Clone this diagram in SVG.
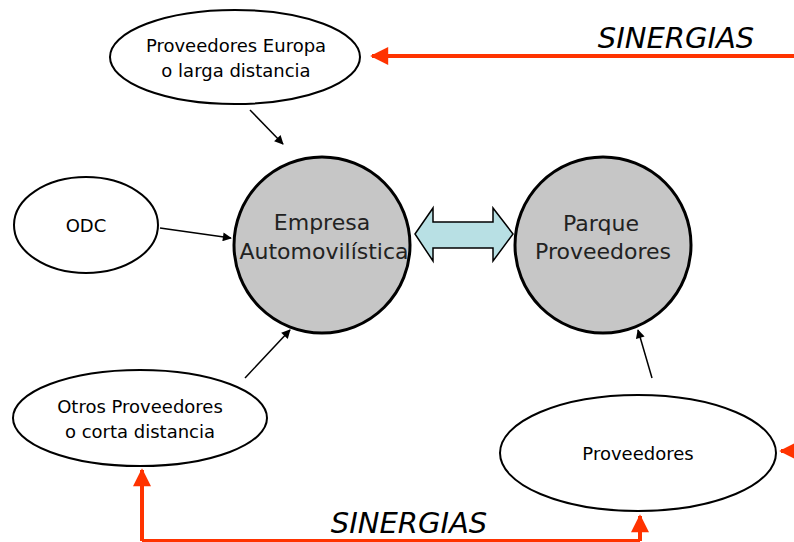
<svg xmlns="http://www.w3.org/2000/svg" width="794" height="542" viewBox="0 0 794 542">
<defs>
<style>
.el{fill:#fff;stroke:#000;stroke-width:2}
.ci{fill:#c6c6c6;stroke:#000;stroke-width:3}
.t{font-family:"DejaVu Sans",Verdana,sans-serif;fill:#000;text-anchor:middle}
.s{font-size:18px}
.b{font-size:22px;fill:#222}
.syn{font-family:"DejaVu Sans",Verdana,sans-serif;font-style:italic;font-size:29px;fill:#000;text-anchor:middle}
.red{stroke:#ff3300;stroke-width:4;fill:none}
.blk{stroke:#000;stroke-width:1.5;fill:none}
</style>
<marker id="ah" viewBox="0 0 10 10" refX="9" refY="5" markerWidth="10" markerHeight="9" markerUnits="userSpaceOnUse" orient="auto"><path d="M0,0 L10,5 L0,10 z" fill="#000"/></marker>
<marker id="rh" viewBox="0 0 10 10" refX="9" refY="5" markerWidth="5" markerHeight="4.5" orient="auto"><path d="M0,0 L10,5 L0,10 z" fill="#ff3300"/></marker>
</defs>
<g id="connectors">
<line class="red" x1="794" y1="56" x2="372" y2="56" marker-end="url(#rh)"/>
<polyline class="red" points="142,541 640,541"/>
<line class="red" x1="142" y1="541" x2="142" y2="470" marker-end="url(#rh)"/>
<line class="red" x1="640" y1="541" x2="640" y2="516" marker-end="url(#rh)"/>
<line class="red" x1="800" y1="451" x2="781" y2="451" marker-end="url(#rh)"/>
<line class="blk" x1="250" y1="110" x2="283" y2="144" marker-end="url(#ah)"/>
<line class="blk" x1="160" y1="228" x2="231" y2="238" marker-end="url(#ah)"/>
<line class="blk" x1="245" y1="378" x2="290" y2="330" marker-end="url(#ah)"/>
<line class="blk" x1="652" y1="378" x2="638" y2="330" marker-end="url(#ah)"/>
<polygon points="415,234 433,208 433,222 493,222 493,208 513,234 493,261 493,248 433,248 433,261" fill="#b8e0e4" stroke="#000" stroke-width="1.5"/>
</g>
<text class="syn" x="676" y="48">SINERGIAS</text>
<text class="syn" x="409" y="533">SINERGIAS</text>
<g id="europa"><ellipse class="el" cx="235" cy="57" rx="125" ry="47"/><text class="t s" x="236" y="52">Proveedores Europa</text><text class="t s" x="236" y="77">o larga distancia</text></g>
<g id="odc"><ellipse class="el" cx="86" cy="225" rx="72" ry="48"/><text class="t s" x="86" y="232">ODC</text></g>
<g id="otros"><ellipse class="el" cx="140" cy="418" rx="127" ry="48"/><text class="t s" x="140" y="413">Otros Proveedores</text><text class="t s" x="140" y="438">o corta distancia</text></g>
<g id="proveedores"><ellipse class="el" cx="638" cy="453" rx="138" ry="58"/><text class="t s" x="638" y="460">Proveedores</text></g>
<g id="empresa"><circle class="ci" cx="322" cy="245" r="88"/><text class="t b" x="322" y="230">Empresa</text><text class="t b" x="324" y="259">Automovilística</text></g>
<g id="parque"><circle class="ci" cx="603" cy="245" r="88"/><text class="t b" x="601" y="231">Parque</text><text class="t b" x="603" y="259">Proveedores</text></g>
</svg>
